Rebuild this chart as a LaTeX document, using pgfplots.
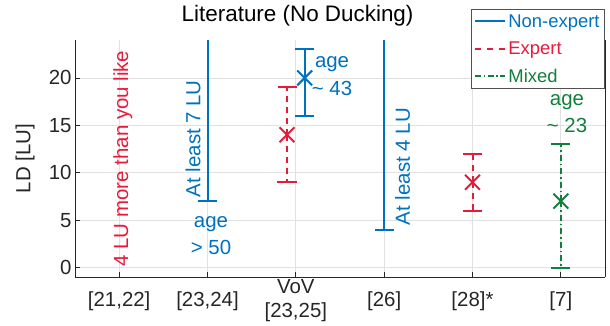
\documentclass[border=0pt]{standalone}
\usepackage{fontspec}
\setmainfont{Liberation Sans}
\usepackage{pgfplots}
\pgfplotsset{compat=1.18}
\definecolor{cblue}{RGB}{0,114,189}
\definecolor{cred}{RGB}{232,26,58}
\definecolor{cgreen}{RGB}{18,128,60}
\definecolor{axgray}{RGB}{38,38,38}
\definecolor{gridgray}{RGB}{225,225,225}
\newcommand{\fbase}{\fontsize{20.5}{24}\selectfont}
\begin{document}
\begin{tikzpicture}
\begin{axis}[
  scale only axis, width=530bp, height=237bp,
  at={(0,0)}, anchor=south west,
  xmin=0.5, xmax=6.5, ymin=-1, ymax=24,
  clip=false,
  axis x line*=bottom, axis y line*=left,
  axis line style={axgray, line width=0.8bp},
  xtick={1,2,3,4,5,6},
  xticklabels={{[21,22]},{[23,24]},{VoV\\{[23,25]}},{[26]},{[28]*},{[7]}},
  xticklabel style={align=center, anchor=center, yshift=-24bp, font=\fbase, text=axgray},
  ytick={0,5,10,15,20},
  yticklabel style={font=\fbase, text=axgray},
  /pgf/number format/assume math mode=true,
  tick style={axgray, line width=0.8bp},
  major tick length=5bp,
  tick align=inside,
  grid=major, grid style={gridgray, line width=0.8bp},
  ylabel={LD [LU]},
  ylabel style={at={(axis description cs:-0.094,0.5)}, anchor=center, font=\fbase, text=axgray},
  title={Literature (No Ducking)},
  title style={at={(axis description cs:0.42,1.051)}, anchor=base, font=\fontsize{22.5}{26}\selectfont, text=black},
  legend style={at={(axis description cs:1,1.131)}, anchor=north east, draw=axgray!80, fill=white,
    font=\fontsize{18.5}{22}\selectfont, line width=0.8bp, row sep=9bp, inner xsep=3bp, inner ysep=3bp},
  legend cell align=left,
  legend image code/.code={\draw[#1, line width=2bp] (0bp,0bp) -- (30bp,0bp);},
]
% lower-bounded non-expert lines
\addplot[cblue, mark=none, forget plot,
  error bars/.cd, y dir=minus, y explicit,
  error bar style={line width=2bp, solid},
  error mark options={cblue, line width=2bp, mark size=9.5bp, rotate=90}]
  coordinates {(2,24) -= (0,17)};
\addplot[cblue, mark=none, forget plot,
  error bars/.cd, y dir=minus, y explicit,
  error bar style={line width=2bp, solid},
  error mark options={cblue, line width=2bp, mark size=9.5bp, rotate=90}]
  coordinates {(4,24) -= (0,20)};
% expert
\addplot[cred, only marks, mark=x, mark size=10.5bp, mark options={solid, line width=2bp}, forget plot,
  error bars/.cd, y dir=both, y explicit,
  error bar style={line width=2bp, dash pattern=on 6bp off 5bp},
  error mark options={cred, solid, line width=2bp, mark size=9.5bp, rotate=90}]
  coordinates {(2.9,14) +- (0,5) (5,9) +- (0,3)};
% non-expert VoV
\addplot[cblue, only marks, mark=x, mark size=10.5bp, mark options={solid, line width=2bp}, forget plot,
  error bars/.cd, y dir=both, y explicit,
  error bar style={line width=2bp, solid},
  error mark options={cblue, solid, line width=2bp, mark size=9.5bp, rotate=90}]
  coordinates {(3.1,20) += (0,3) -= (0,4)};
% mixed
\addplot[cgreen, only marks, mark=x, mark size=10.5bp, mark options={solid, line width=2bp}, forget plot,
  error bars/.cd, y dir=both, y explicit,
  error bar style={line width=2bp, dash pattern=on 6bp off 3bp on 1.5bp off 3bp},
  error mark options={cgreen, solid, line width=2bp, mark size=9.5bp, rotate=90}]
  coordinates {(6,7) += (0,6) -= (0,7)};
% legend
\addlegendimage{cblue, solid}
\addlegendentry{\textcolor{cblue}{Non-expert}}
\addlegendimage{cred, dash pattern=on 6bp off 6bp}
\addlegendentry{\textcolor{cred}{Expert}}
\addlegendimage{cgreen, dash pattern=on 6bp off 2.5bp on 1.5bp off 2.5bp}
\addlegendentry{\textcolor{cgreen}{Mixed}}
% right border
\draw[axgray, line width=0.8bp] (rel axis cs:1,0) -- (rel axis cs:1,1);
% annotations
\node[rotate=90, anchor=base west, text=cred, font=\fbase, inner sep=0pt] at (axis cs:1.10,0.1) {4 LU more than you like};
\node[rotate=90, anchor=base west, text=cblue, font=\fbase, inner sep=0pt] at (axis cs:1.92,7.4) {At least 7 LU};
\node[rotate=90, anchor=base west, text=cblue, font=\fbase, inner sep=0pt] at (axis cs:4.29,4.46) {At least 4 LU};
\node[anchor=base, text=cblue, font=\fbase, inner sep=0pt] at (axis cs:2.04,4.17) {age};
\node[anchor=base, text=cblue, font=\fbase, inner sep=0pt] at (axis cs:2.04,1.33) {> 50};
\node[anchor=base, text=cblue, font=\fbase, inner sep=0pt] at (axis cs:3.41,21.06) {age};
\node[anchor=base, text=cblue, font=\fbase, inner sep=0pt] at (axis cs:3.41,18.1) {\textasciitilde\ 43};
\node[anchor=base, text=cgreen, font=\fbase, inner sep=0pt] at (axis cs:6.07,17.07) {age};
\node[anchor=base, text=cgreen, font=\fbase, inner sep=0pt] at (axis cs:6.07,14.25) {\textasciitilde\ 23};
\end{axis}
\pgfresetboundingbox
\path[use as bounding box] (-75bp,-49bp) rectangle (535bp,277bp);
\end{tikzpicture}
\end{document}
